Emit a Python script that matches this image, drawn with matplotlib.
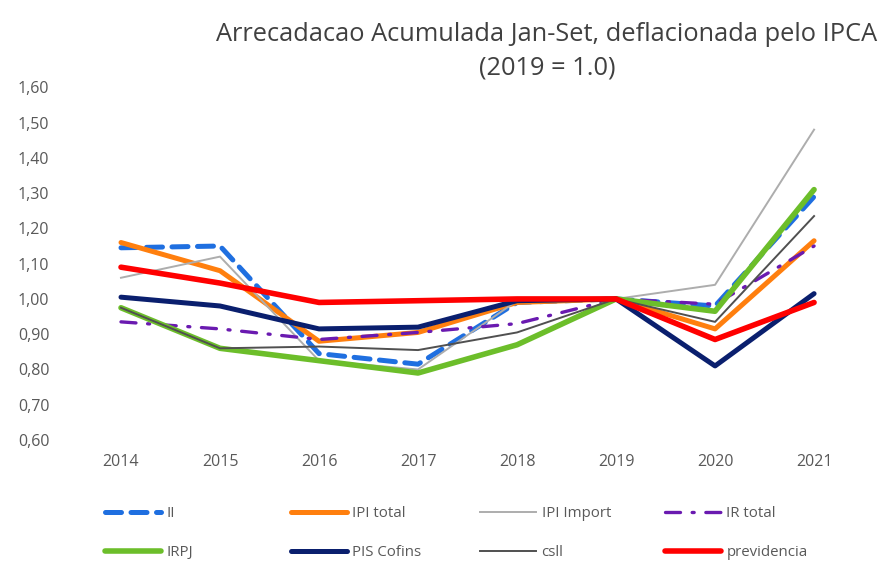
import matplotlib
matplotlib.use("Agg")
import matplotlib.pyplot as plt
from matplotlib.lines import Line2D

plt.rcParams['font.family'] = ['Open Sans', 'DejaVu Sans']

# dados
anos = ['2014', '2015', '2016', '2017', '2018', '2019', '2020', '2021']
ii = [1.145, 1.15, 0.845, 0.815, 0.99, 1.0, 0.98, 1.29]
ipi_total = [1.16, 1.08, 0.88, 0.905, 0.99, 1.0, 0.915, 1.165]
ipi_import = [1.06, 1.12, 0.825, 0.80, 0.995, 1.0, 1.04, 1.48]
ir_total = [0.935, 0.915, 0.885, 0.905, 0.93, 1.0, 0.985, 1.15]
irpj = [0.975, 0.86, 0.825, 0.79, 0.87, 1.0, 0.965, 1.31]
pis_cofins = [1.005, 0.98, 0.915, 0.92, 0.995, 1.0, 0.81, 1.015]
csll = [0.975, 0.86, 0.865, 0.855, 0.905, 1.0, 0.935, 1.235]
previdencia = [1.09, 1.045, 0.99, 0.995, 1.0, 1.0, 0.885, 0.99]

nomes = ['II', 'IPI total', 'IPI Import', 'IR total',
         'IRPJ', 'PIS Cofins', 'csll', 'previdencia']
series = [ii, ipi_total, ipi_import, ir_total,
          irpj, pis_cofins, csll, previdencia]
estilos = [
    dict(color='#1F6FE0', lw=3.6, dashes=(3.2, 1.9), dash_capstyle='round'),
    dict(color='#FF7F0E', lw=3.6, solid_capstyle='round'),
    dict(color='#ADADAD', lw=1.4),
    dict(color='#6A1AB0', lw=2.4, dashes=(4.5, 3.5, 0.6, 3.5), dash_capstyle='round'),
    dict(color='#6CBE2A', lw=4.0, solid_capstyle='round'),
    dict(color='#0A1F6E', lw=3.6, solid_capstyle='round'),
    dict(color='#505050', lw=1.4),
    dict(color='#FF0000', lw=4.0, solid_capstyle='round'),
]

fig = plt.figure(figsize=(8.88, 5.73), dpi=100)
ax = fig.add_axes([0.0805, 0.2321, 0.892, 0.6155])

x = range(len(anos))
for s, st in zip(series, estilos):
    ax.plot(x, s, **st)

ax.set_xlim(-0.5, len(anos) - 0.5)
ax.set_ylim(0.6, 1.6)
ax.set_xticks(list(x))
ax.set_xticklabels(anos)
yt = [0.6 + 0.1 * i for i in range(11)]
ax.set_yticks(yt)
ax.set_yticklabels([('%.2f' % v).replace('.', ',') for v in yt])
ax.tick_params(axis='y', length=0, pad=16, labelsize=11.5, labelcolor='#595959')
ax.tick_params(axis='x', length=0, pad=10, labelsize=11.5, labelcolor='#595959')
for sp in ax.spines.values():
    sp.set_visible(False)

fig.text(0.616, 0.939, 'Arrecadacao Acumulada Jan-Set, deflacionada pelo IPCA',
         ha='center', va='center', fontsize=18.3, color='#404040')
fig.text(0.616, 0.881, '(2019 = 1.0)',
         ha='center', va='center', fontsize=18.3, color='#404040')

# legenda: 4 colunas, 2 linhas
xcols = [105, 291, 480, 665]
for c in range(4):
    handles = []
    labels = []
    for r in range(2):
        i = c + 4 * r
        handles.append(Line2D([], [], **estilos[i]))
        labels.append(nomes[i])
    leg = fig.legend(handles, labels, loc='upper left',
                     bbox_to_anchor=(xcols[c] / 888, 1 - 506 / 573),
                     frameon=False, fontsize=10.8, handlelength=3.7,
                     handletextpad=0.4, labelspacing=1.6,
                     borderpad=0, borderaxespad=0)
    for t in leg.get_texts():
        t.set_color('#595959')

fig.savefig('out.png', dpi=100)
